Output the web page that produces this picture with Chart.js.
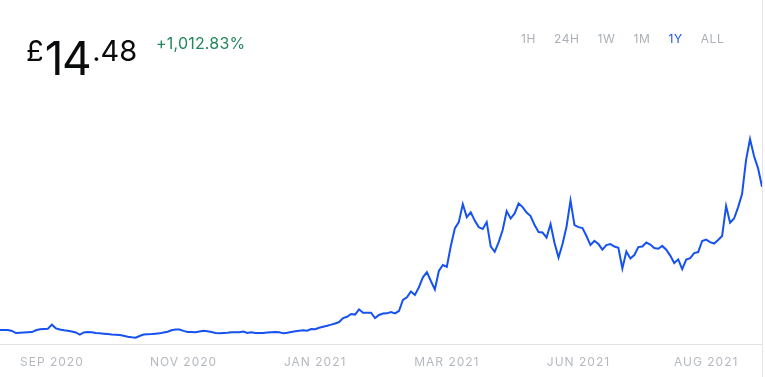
<!DOCTYPE html>
<html>
<head>
<meta charset="utf-8">
<script src="https://cdn.jsdelivr.net/npm/chart.js@4"></script>
<style>
  html, body { margin: 0; padding: 0; background: #fff; overflow: hidden; }
  body { width: 765px; height: 377px; position: relative; font-family: Inter, "Noto Sans", sans-serif; }
  #wrap { position: absolute; left: 0; top: 0; width: 765px; height: 377px; }
  #edge { position: absolute; left: 762px; top: 0; width: 1px; height: 377px; background: #e4e4e4; }
  #price { position: absolute; left: 26px; top: 35px; display: flex; align-items: flex-start; color: #0a0b0d; }
  #price .cur, #price .dec { font-size: 29px; line-height: 1; margin-top: 1px; }
  #price .int { font-size: 46px; line-height: 1; letter-spacing: -1.5px; margin: 0 2px 0 1px; }
  #change { position: absolute; left: 156px; top: 35px; font-size: 16px; line-height: 1; letter-spacing: 0.2px; color: #21875b; }
  #ranges { position: absolute; left: 521px; top: 33px; display: flex; gap: 18px; font-size: 12px; line-height: 1; letter-spacing: 0.6px; color: #aab0b7; }
  #ranges .on { color: #1652f0; }
</style>
</head>
<body>
<div id="wrap"><canvas id="priceChart"></canvas></div>
<div id="edge"></div>
<div id="price"><span class="cur">£</span><span class="int">14</span><span class="dec">.48</span></div>
<div id="change">+1,012.83%</div>
<div id="ranges"><span>1H</span><span>24H</span><span>1W</span><span>1M</span><span class="on">1Y</span><span>ALL</span></div>

<script>
// 价格数据（约每两天一个点，单位 £）
const prices = [
  1.29, 1.29, 1.29, 1.20, 1.01, 1.04, 1.06, 1.08, 1.10, 1.26,
  1.35, 1.38, 1.41, 1.78, 1.44, 1.33, 1.26, 1.22, 1.15, 1.06,
  0.87, 1.06, 1.10, 1.08, 1.01, 0.98, 0.95, 0.92, 0.87, 0.86,
  0.83, 0.76, 0.67, 0.62, 0.58, 0.74, 0.87, 0.90, 0.92, 0.95,
  0.98, 1.06, 1.13, 1.26, 1.33, 1.33, 1.21, 1.10, 1.10, 1.09,
  1.15, 1.21, 1.18, 1.10, 1.01, 0.98, 1.01, 1.04, 1.08, 1.08,
  1.08, 1.15, 1.01, 1.08, 1.01, 1.01, 1.01, 1.06, 1.08, 1.10,
  1.08, 0.98, 1.03, 1.10, 1.17, 1.22, 1.27, 1.22, 1.38, 1.36,
  1.50, 1.59, 1.68, 1.78, 1.89, 2.02, 2.39, 2.51, 2.76, 2.71,
  3.19, 2.88, 2.88, 2.88, 2.39, 2.67, 2.81, 2.82, 2.94, 2.82,
  3.04, 4.05, 4.30, 4.83, 4.51, 5.22, 6.14, 6.62, 5.80, 5.03,
  6.72, 7.27, 7.11, 9.02, 10.64, 11.22, 12.88, 11.68, 12.12, 11.36,
  10.76, 10.58, 11.22, 8.99, 8.49, 9.38, 10.49, 12.24, 11.55, 12.02,
  12.93, 12.60, 12.10, 11.78, 10.95, 10.30, 10.26, 9.80, 11.04, 9.29,
  7.96, 9.20, 10.79, 13.22, 10.95, 10.76, 10.67, 9.94, 9.11, 9.50,
  9.20, 8.69, 9.11, 9.20, 8.97, 8.86, 6.96, 8.51, 7.87, 8.19,
  8.92, 8.97, 9.34, 9.15, 8.83, 8.77, 9.03, 8.68, 8.14, 7.45,
  7.79, 6.90, 7.77, 7.91, 8.37, 8.46, 9.48, 9.61, 9.38, 9.25,
  9.57, 9.94, 12.70, 11.16, 11.55, 12.58, 13.80, 16.93, 18.86, 17.30,
  16.19, 14.48
];

// X 轴刻度文字及其所在的数据点序号
const tickText = ['SEP 2020', 'NOV 2020', 'JAN 2021', 'MAR 2021', 'JUN 2021', 'AUG 2021'];
const tickIndex = [13, 46, 79, 112, 145, 177];

// Y 轴范围
const yMin = 0;
const yMax = 22;

const days = prices.map((_, i) => i);

// 画布文字字间距
const letterSpacingPlugin = {
    id: 'letterSpacing',
    beforeDraw(chart) {
        chart.ctx.letterSpacing = '1px';
    }
};

const ctx = document.getElementById('priceChart').getContext('2d');
new Chart(ctx, {
    type: 'line',
    data: {
        labels: days,
        datasets: [{
            data: prices,
            borderColor: '#1652f0',
            borderWidth: 2,
            pointRadius: 0,
            tension: 0,
            fill: false
        }]
    },
    options: {
        responsive: true,
        maintainAspectRatio: false,
        animation: false,
        layout: {
            padding: { top: 105, right: 3, left: 0, bottom: 0 }
        },
        plugins: {
            legend: { display: false },
            tooltip: { enabled: false }
        },
        scales: {
            x: {
                offset: false,
                grid: { display: false, drawTicks: false },
                border: { display: true, color: '#e2e2e2', width: 1 },
                afterBuildTicks: (axis) => {
                    axis.ticks = tickIndex.map(v => ({ value: v }));
                },
                afterFit: (axis) => {
                    axis.height = 33;
                },
                ticks: {
                    autoSkip: false,
                    maxRotation: 0,
                    minRotation: 0,
                    padding: 11,
                    color: '#b5b9bf',
                    font: { family: 'Inter', size: 12 },
                    callback: (value) => {
                        const k = tickIndex.indexOf(value);
                        return k >= 0 ? tickText[k] : '';
                    }
                }
            },
            y: {
                display: false,
                min: yMin,
                max: yMax
            }
        }
    },
    plugins: [letterSpacingPlugin]
});
</script>
</body>
</html>
